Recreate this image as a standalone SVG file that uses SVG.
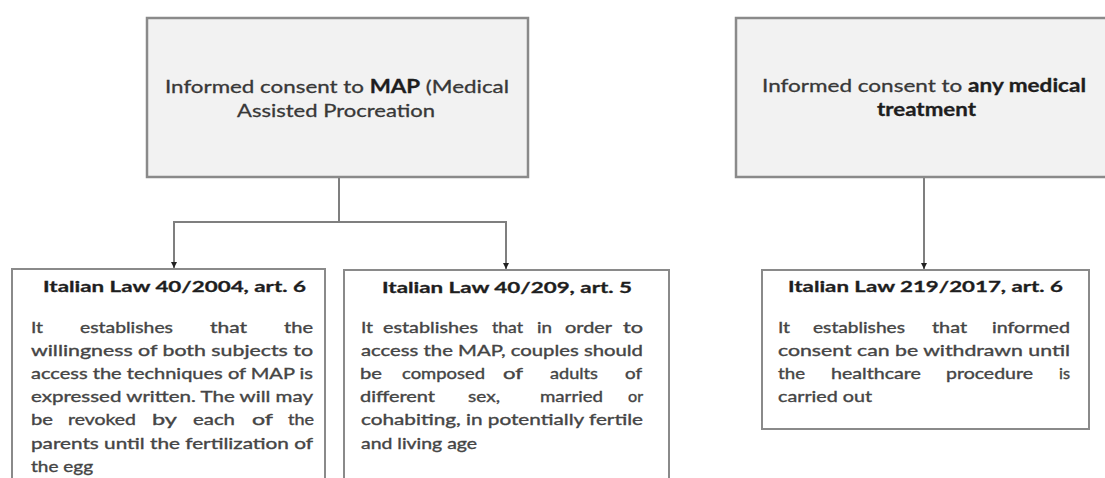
<svg xmlns="http://www.w3.org/2000/svg" width="1105" height="478" viewBox="0 0 1105 478">
<style>
text{font-family:Lato,"Open Sans","Liberation Sans",sans-serif}
.top{font-size:18px;fill:#383838;stroke:#383838;stroke-width:0.3}
.bd{font-weight:bold;fill:#1e1e1e;stroke:#1e1e1e}
.h{font-size:16px;font-weight:bold;fill:#1e1e1e;stroke:#1e1e1e;stroke-width:0.3}
.b{font-size:15px;fill:#454545;stroke:#454545;stroke-width:0.35}
.boxT{fill:#f2f2f2;stroke:#8a8a8a;stroke-width:2.5}
.boxB{fill:#ffffff;stroke:#8a8a8a;stroke-width:2}
.conn{fill:none;stroke:#7f7f7f;stroke-width:2}
</style>
<defs>
<marker id="arr" viewBox="0 0 6 6" refX="6" refY="3" markerWidth="6" markerHeight="6" markerUnits="userSpaceOnUse" orient="auto">
<path d="M0,0 L6,3 L0,6 z" fill="#222"/>
</marker>
</defs>
<rect width="1105" height="478" fill="#ffffff"/>
<g id="connectors">
<path class="conn" d="M339,177 V222 H174 V268" marker-end="url(#arr)"/>
<path class="conn" d="M339,222 H506 V269" marker-end="url(#arr)"/>
<path class="conn" d="M924,177 V269" marker-end="url(#arr)"/>
</g>
<g id="node-map-consent">
<rect class="boxT" x="147" y="18" width="381" height="159"/>
<text class="top" x="165" y="93" textLength="344" lengthAdjust="spacingAndGlyphs">Informed consent to <tspan class="bd">MAP</tspan> (Medical</text>
<text class="top" x="237" y="117" textLength="198" lengthAdjust="spacingAndGlyphs">Assisted Procreation</text>
</g>
<g id="node-any-treatment">
<rect class="boxT" x="736" y="18" width="385" height="159"/>
<text class="top" x="762" y="92" textLength="324" lengthAdjust="spacingAndGlyphs">Informed consent to <tspan class="bd">any medical</tspan></text>
<text class="top bd" x="877" y="116" textLength="99" lengthAdjust="spacingAndGlyphs">treatment</text>
</g>
<g id="node-law-40-2004">
<rect class="boxB" x="12" y="269" width="313" height="230"/>
<text class="h" x="43" y="292" textLength="263" lengthAdjust="spacingAndGlyphs">Italian Law 40/2004, art. 6</text>
<text class="b" x="31" y="332.5" textLength="12" lengthAdjust="spacingAndGlyphs">It</text>
<text class="b" x="80" y="332.5" textLength="93" lengthAdjust="spacingAndGlyphs">establishes</text>
<text class="b" x="210" y="332.5" textLength="37" lengthAdjust="spacingAndGlyphs">that</text>
<text class="b" x="284" y="332.5" textLength="29" lengthAdjust="spacingAndGlyphs">the</text>
<text class="b" x="31" y="355.7" textLength="282" lengthAdjust="spacingAndGlyphs">willingness of both subjects to</text>
<text class="b" x="31" y="378.9" textLength="282" lengthAdjust="spacingAndGlyphs">access the techniques of MAP is</text>
<text class="b" x="31" y="402.1" textLength="282" lengthAdjust="spacingAndGlyphs">expressed written. The will may</text>
<text class="b" x="31" y="425.3" textLength="22" lengthAdjust="spacingAndGlyphs">be</text>
<text class="b" x="68" y="425.3" textLength="68" lengthAdjust="spacingAndGlyphs">revoked</text>
<text class="b" x="152" y="425.3" textLength="25" lengthAdjust="spacingAndGlyphs">by</text>
<text class="b" x="193" y="425.3" textLength="42" lengthAdjust="spacingAndGlyphs">each</text>
<text class="b" x="252" y="425.3" textLength="21" lengthAdjust="spacingAndGlyphs">of</text>
<text class="b" x="288" y="425.3" textLength="26" lengthAdjust="spacingAndGlyphs">the</text>
<text class="b" x="31" y="448.5" textLength="282" lengthAdjust="spacingAndGlyphs">parents until the fertilization of</text>
<text class="b" x="31" y="471.7" textLength="62" lengthAdjust="spacingAndGlyphs">the egg</text>
</g>
<g id="node-law-40-209">
<rect class="boxB" x="344" y="270" width="325" height="230"/>
<text class="h" x="382" y="293" textLength="250" lengthAdjust="spacingAndGlyphs">Italian Law 40/209, art. 5</text>
<text class="b" x="361" y="332.5" textLength="12" lengthAdjust="spacingAndGlyphs">It</text>
<text class="b" x="383" y="332.5" textLength="95" lengthAdjust="spacingAndGlyphs">establishes</text>
<text class="b" x="492" y="332.5" textLength="31" lengthAdjust="spacingAndGlyphs">that</text>
<text class="b" x="537" y="332.5" textLength="15" lengthAdjust="spacingAndGlyphs">in</text>
<text class="b" x="565" y="332.5" textLength="47" lengthAdjust="spacingAndGlyphs">order</text>
<text class="b" x="623" y="332.5" textLength="20" lengthAdjust="spacingAndGlyphs">to</text>
<text class="b" x="361" y="355.7" textLength="282" lengthAdjust="spacingAndGlyphs">access the MAP, couples should</text>
<text class="b" x="360" y="378.9" textLength="22" lengthAdjust="spacingAndGlyphs">be</text>
<text class="b" x="402" y="378.9" textLength="83" lengthAdjust="spacingAndGlyphs">composed</text>
<text class="b" x="503" y="378.9" textLength="20" lengthAdjust="spacingAndGlyphs">of</text>
<text class="b" x="550" y="378.9" textLength="48" lengthAdjust="spacingAndGlyphs">adults</text>
<text class="b" x="625" y="378.9" textLength="17" lengthAdjust="spacingAndGlyphs">of</text>
<text class="b" x="360" y="402.1" textLength="75" lengthAdjust="spacingAndGlyphs">different</text>
<text class="b" x="468" y="402.1" textLength="32" lengthAdjust="spacingAndGlyphs">sex,</text>
<text class="b" x="540" y="402.1" textLength="63" lengthAdjust="spacingAndGlyphs">married</text>
<text class="b" x="628" y="402.1" textLength="15" lengthAdjust="spacingAndGlyphs">or</text>
<text class="b" x="361" y="425.3" textLength="282" lengthAdjust="spacingAndGlyphs">cohabiting, in potentially fertile</text>
<text class="b" x="361" y="448.5" textLength="116" lengthAdjust="spacingAndGlyphs">and living age</text>
</g>
<g id="node-law-219-2017">
<rect class="boxB" x="762" y="270" width="327" height="159"/>
<text class="h" x="788" y="292" textLength="275" lengthAdjust="spacingAndGlyphs">Italian Law 219/2017, art. 6</text>
<text class="b" x="778" y="332.5" textLength="12" lengthAdjust="spacingAndGlyphs">It</text>
<text class="b" x="813" y="332.5" textLength="92" lengthAdjust="spacingAndGlyphs">establishes</text>
<text class="b" x="932" y="332.5" textLength="35" lengthAdjust="spacingAndGlyphs">that</text>
<text class="b" x="992" y="332.5" textLength="78" lengthAdjust="spacingAndGlyphs">informed</text>
<text class="b" x="778" y="355.7" textLength="292" lengthAdjust="spacingAndGlyphs">consent can be withdrawn until</text>
<text class="b" x="778" y="378.9" textLength="27" lengthAdjust="spacingAndGlyphs">the</text>
<text class="b" x="831" y="378.9" textLength="90" lengthAdjust="spacingAndGlyphs">healthcare</text>
<text class="b" x="946" y="378.9" textLength="87" lengthAdjust="spacingAndGlyphs">procedure</text>
<text class="b" x="1059" y="378.9" textLength="11" lengthAdjust="spacingAndGlyphs">is</text>
<text class="b" x="778" y="402.1" textLength="94" lengthAdjust="spacingAndGlyphs">carried out</text>
</g>
</svg>
